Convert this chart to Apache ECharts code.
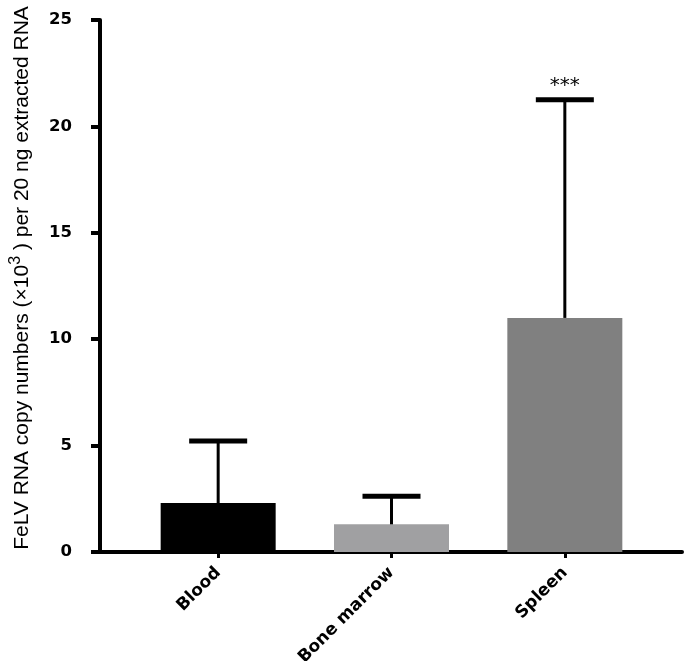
<!DOCTYPE html>
<html>
<head>
<meta charset="utf-8">
<script src="https://cdn.jsdelivr.net/npm/echarts@6/dist/echarts.min.js"></script>
<style>html,body{margin:0;padding:0;background:#fff}#c{width:685px;height:661px}</style>
</head>
<body>
<div id="c"></div>
<script>
const categories = ['Blood', 'Bone marrow', 'Spleen'];
const means = [2.3, 1.3, 11.0];
const upperErrors = [5.22, 2.62, 21.25];
const significance = ['', '', '***'];
const barColors = ['#000000', '#a0a0a2', '#808080'];
const yTicks = [0, 5, 10, 15, 20, 25];

const chart = echarts.init(document.getElementById('c'));
const boldFont = 'DejaVu Sans';
chart.setOption({
  animation: false,
  backgroundColor: '#ffffff',
  grid: [
    { left: 100, right: 3, top: 20, bottom: 109, containLabel: false, outerBoundsMode: 'none' },
    { left: 131.5, right: 33.5, top: 20, bottom: 109, containLabel: false, outerBoundsMode: 'none' }
  ],
  xAxis: [
    { gridIndex: 0, type: 'value', min: 0, max: 1,
      axisLine: { show: true, lineStyle: { color: '#000', width: 4 } },
      axisTick: { show: false }, axisLabel: { show: false }, splitLine: { show: false } },
    { gridIndex: 1, type: 'category', data: categories,
      axisLine: { show: false },
      axisTick: { show: true, alignWithLabel: true, length: 6, lineStyle: { color: '#000', width: 3 } },
      axisLabel: { rotate: 45, margin: 18, color: '#000', fontFamily: boldFont, fontWeight: 'bold', fontSize: 17 } }
  ],
  yAxis: [
    { gridIndex: 1, type: 'value', min: yTicks[0], max: yTicks[yTicks.length - 1], interval: 5,
      offset: 31.5,
      axisLine: { show: true, lineStyle: { color: '#000', width: 4 } },
      axisTick: { show: true, length: 9, lineStyle: { color: '#000', width: 4 } },
      axisLabel: { margin: 28, color: '#000', fontFamily: boldFont, fontWeight: 'bold', fontSize: 16.5 },
      splitLine: { show: false },
      name: 'FeLV RNA copy numbers (×10{sup|3} ) per 20 ng extracted RNA',
      nameLocation: 'middle', nameGap: 64,
      nameTextStyle: { color: '#000', fontFamily: 'Liberation Sans', fontSize: 21, lineHeight: 28,
        padding: [0, 0, 0, 16],
        rich: { sup: { fontSize: 16, fontFamily: 'Liberation Sans', color: '#000', verticalAlign: 'top', lineHeight: 28 } } }
    },
    { gridIndex: 0, type: 'value', show: false, min: 0, max: 1 }
  ],
  series: [
    { type: 'bar', xAxisIndex: 1, yAxisIndex: 0, barWidth: 115,
      data: means.map((v, i) => ({ value: v, itemStyle: { color: barColors[i] } })) },
    { type: 'custom', xAxisIndex: 1, yAxisIndex: 0, z: 5,
      data: categories.map((c, i) => [i, means[i], upperErrors[i]]),
      renderItem: function (params, api) {
        const i = api.value(0);
        const base = api.coord([i, api.value(1)]);
        const top = api.coord([i, api.value(2)]);
        const children = [
          { type: 'line', shape: { x1: base[0], y1: base[1], x2: top[0], y2: top[1] },
            style: { stroke: '#000', lineWidth: 3 } },
          { type: 'line', shape: { x1: top[0] - 29, y1: top[1], x2: top[0] + 29, y2: top[1] },
            style: { stroke: '#000', lineWidth: 5 } }
        ];
        if (significance[i]) {
          children.push({ type: 'text', style: { text: significance[i], x: top[0], y: top[1] - 4,
            align: 'center', verticalAlign: 'bottom', fill: '#000', font: '20px "DejaVu Sans"' } });
        }
        return { type: 'group', children: children };
      }
    }
  ]
});
</script>
</body>
</html>
